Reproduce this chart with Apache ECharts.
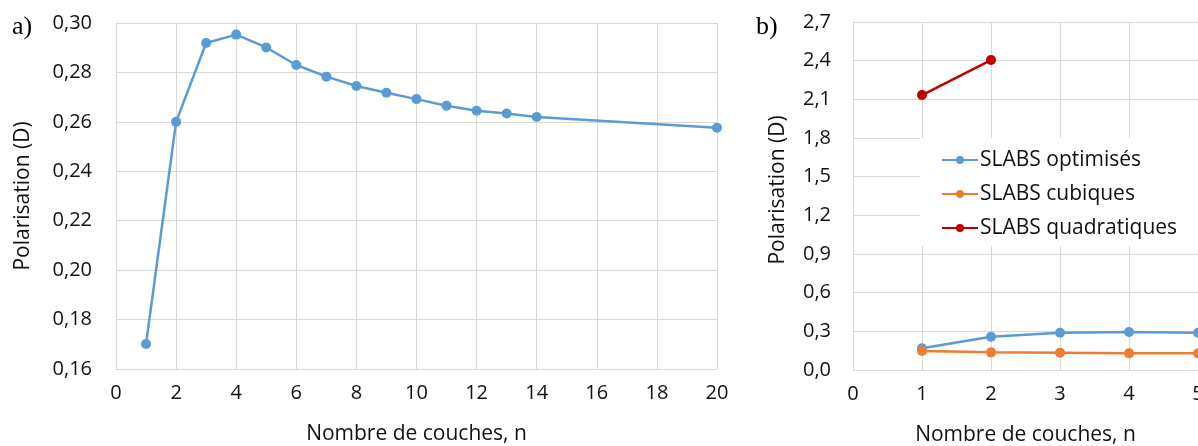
<!DOCTYPE html>
<html><head><meta charset="utf-8">
<script src="https://cdn.jsdelivr.net/npm/echarts@6/dist/echarts.min.js"></script>
<style>html,body{margin:0;padding:0;background:#fff}#c{width:1198px;height:446px}</style>
</head><body><div id="c"></div>
<script>
// Panel a) : optimised slabs, polarisation vs number of layers
const layersA = [1, 2, 3, 4, 5, 6, 7, 8, 9, 10, 11, 12, 13, 14, 20];
const polarA = [0.1701, 0.2600, 0.2919, 0.2953, 0.2901, 0.2830, 0.2783, 0.2745, 0.2718, 0.2692, 0.2665, 0.2645, 0.2634, 0.2620, 0.2576];

// Panel b) : three slab types
const layersB = [1, 2, 3, 4, 5];
const optimisesB = [0.168, 0.258, 0.289, 0.295, 0.289];
const cubiquesB = [0.147, 0.137, 0.134, 0.129, 0.129];
const layersQuad = [1, 2];
const quadratiquesB = [2.133, 2.405];

const seriesNames = ['SLABS optimisés', 'SLABS cubiques', 'SLABS quadratiques'];
const xTitle = 'Nombre de couches, n';
const yTitle = 'Polarisation (D)';

const FONT = 'Open Sans';
const TXT = '#111';
const GRID = '#d9d9d9';
const BLUE = '#5b9bd5', ORANGE = '#ed7d31', RED = '#c00000';

const zip = (xs, ys) => xs.map((x, i) => [x, ys[i]]);
const comma = d => v => v.toFixed(d).replace('.', ',');

function valAxis(extra) {
  return Object.assign({
    type: 'value',
    axisLine: { show: true, lineStyle: { color: GRID, width: 1 } },
    axisTick: { show: false },
    splitLine: { show: true, lineStyle: { color: GRID, width: 1 } },
    axisLabel: { color: TXT, fontFamily: FONT, fontSize: 20 },
    nameLocation: 'middle',
    nameTextStyle: { color: TXT, fontFamily: FONT, fontSize: 21 }
  }, extra);
}

function lineSeries(name, data, color, xi) {
  return {
    type: 'line', name: name, data: data, xAxisIndex: xi, yAxisIndex: xi,
    symbol: 'circle', symbolSize: 10, showSymbol: true,
    lineStyle: { color: color, width: 2.5 },
    itemStyle: { color: color },
    emphasis: { disabled: true }, animation: false, z: 3
  };
}

const chart = echarts.init(document.getElementById('c'), null, { renderer: 'canvas' });
chart.setOption({
  animation: false,
  backgroundColor: '#fff',
  grid: [
    { left: 116, top: 23, width: 601, height: 346, containLabel: false, outerBoundsMode: 'none' },
    { left: 853, top: 22, width: 345, height: 348, containLabel: false, outerBoundsMode: 'none' }
  ],
  xAxis: [
    valAxis({ gridIndex: 0, min: 0, max: 20, interval: 2, name: xTitle, nameGap: 55,
      axisLabel: { color: TXT, fontFamily: FONT, fontSize: 20, margin: 14 } }),
    valAxis({ gridIndex: 1, min: 0, max: 5, interval: 1, name: xTitle, nameGap: 55,
      axisLabel: { color: TXT, fontFamily: FONT, fontSize: 20, margin: 14 } })
  ],
  yAxis: [
    valAxis({ gridIndex: 0, min: 0.16, max: 0.30, interval: 0.02, name: yTitle, nameGap: 82,
      axisLabel: { color: TXT, fontFamily: FONT, fontSize: 20, margin: 24, formatter: comma(2) } }),
    valAxis({ gridIndex: 1, min: 0, max: 2.7, interval: 0.3, name: yTitle, nameGap: 64,
      nameTextStyle: { color: TXT, fontFamily: FONT, fontSize: 21, padding: [0, 0, 0, 12] },
      axisLabel: { color: TXT, fontFamily: FONT, fontSize: 20, margin: 22, formatter: comma(1) } })
  ],
  legend: {
    data: seriesNames,
    orient: 'vertical',
    left: 920, top: 138,
    backgroundColor: '#fff',
    padding: [10, 40, 6, 21],
    itemWidth: 36, itemHeight: 10, itemGap: 10,
    textStyle: { color: TXT, fontFamily: FONT, fontSize: 21, lineHeight: 24, padding: [0, 0, 0, -3] },
    z: 10
  },
  graphic: [
    { type: 'text', left: 12, top: 14, style: { text: 'a)', font: '26px "Liberation Serif"', fill: '#000' } },
    { type: 'text', left: 756, top: 14, style: { text: 'b)', font: '26px "Liberation Serif"', fill: '#000' } }
  ],
  series: [
    lineSeries('Polarisation a', zip(layersA, polarA), BLUE, 0),
    lineSeries(seriesNames[0], zip(layersB, optimisesB), BLUE, 1),
    lineSeries(seriesNames[1], zip(layersB, cubiquesB), ORANGE, 1),
    lineSeries(seriesNames[2], zip(layersQuad, quadratiquesB), RED, 1)
  ]
});
</script></body></html>
